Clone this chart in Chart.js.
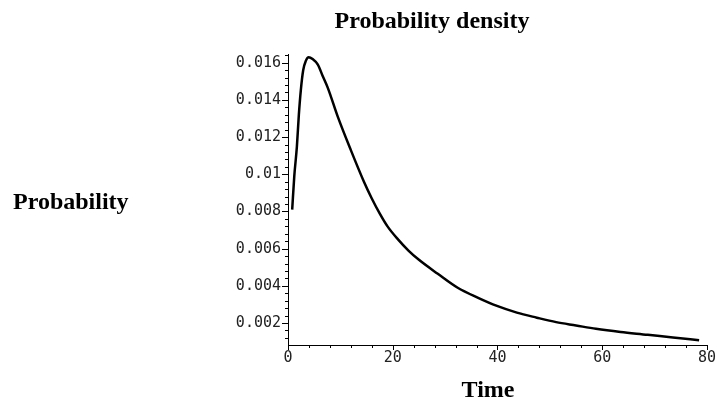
<!DOCTYPE html>
<html>
<head>
<meta charset="utf-8">
<script src="https://cdn.jsdelivr.net/npm/chart.js@4/dist/chart.umd.min.js"></script>
<style>
  html, body { margin: 0; padding: 0; background: #fff; }
  #wrap { width: 720px; height: 400px; }
</style>
</head>
<body>
<div id="wrap"><canvas id="myChart" width="720" height="400"></canvas></div>
<script>
// values
const timeValues = [0.8, 1.2, 1.7, 2.07, 2.45, 2.9, 3.4, 3.95, 4.7, 5.7, 6.6, 7.6, 9.5, 12, 14.5, 16, 17.5, 19, 21, 23, 25, 28.6, 32.4, 36.2, 39.9, 43.7, 47.5, 51.2, 55, 58.8, 63.5, 68.7, 73.5, 78.5];
const densityValues = [0.0081, 0.0099, 0.0115, 0.0132, 0.01453, 0.0156, 0.0161, 0.0163, 0.0162, 0.0159, 0.0153, 0.01465, 0.0131, 0.0113, 0.0096, 0.0087, 0.0079, 0.0072, 0.0065, 0.0059, 0.0054, 0.00465, 0.0039, 0.00337, 0.00292, 0.00256, 0.00229, 0.00205, 0.00187, 0.00169, 0.00152, 0.00137, 0.00122, 0.00108];
const xTicks = [0, 20, 40, 60, 80];
const yTicks = [0.002, 0.004, 0.006, 0.008, 0.01, 0.012, 0.014, 0.016];

const points = timeValues.map((t, i) => ({ x: t, y: densityValues[i] }));

// axis ticks (major + minor) and the titles, drawn by hand
const decorPlugin = {
    id: 'decor',
    afterDraw(chart) {
        const ctx = chart.ctx;
        const xs = chart.scales.x, ys = chart.scales.y;
        const area = chart.chartArea;
        ctx.save();
        ctx.strokeStyle = '#000';
        ctx.lineWidth = 1;
        ctx.beginPath();
        // x ticks
        for (let v = 0; v <= 80; v += 4) {
            const px = Math.round(xs.getPixelForValue(v)) + 0.5;
            const len = v % 20 === 0 ? 5 : 3;
            ctx.moveTo(px, area.bottom);
            ctx.lineTo(px, area.bottom + len);
        }
        // y ticks
        for (let k = 2; k * 0.0004 <= ys.max + 1e-9; k++) {
            const v = k * 0.0004;
            if (v < ys.min) continue;
            const py = Math.round(ys.getPixelForValue(v)) + 0.5;
            const len = k % 5 === 0 ? 6 : 3;
            ctx.moveTo(area.left, py);
            ctx.lineTo(area.left - len, py);
        }
        ctx.stroke();

        ctx.fillStyle = '#000';
        ctx.font = 'bold 24px "Liberation Serif", "Times New Roman", serif';
        ctx.textBaseline = 'alphabetic';
        ctx.textAlign = 'center';
        ctx.fillText('Probability density', 432, 28);
        ctx.fillText('Time', 488, 397);
        ctx.textAlign = 'left';
        ctx.fillText('Probability', 13, 209);
        ctx.restore();
    }
};

const chart1 = document.getElementById('myChart').getContext('2d');
new Chart(chart1, {
    type: 'line',
    data: {
        datasets: [{
            label: 'Probability density',
            data: points,
            borderColor: '#000',
            borderWidth: 2.5,
            pointRadius: 0,
            fill: false,
            cubicInterpolationMode: 'monotone'
        }]
    },
    options: {
        responsive: false,
        animation: false,
        layout: { padding: { top: 54, right: 7, left: 0, bottom: 0 } },
        plugins: {
            legend: { display: false },
            tooltip: { enabled: false }
        },
        scales: {
            x: {
                type: 'linear',
                min: 0,
                max: 80,
                afterFit: s => { s.height = 55; },
                afterBuildTicks: s => { s.ticks = xTicks.map(v => ({ value: v })); },
                grid: { display: false, drawTicks: false },
                border: { display: true, color: '#000', width: 1 },
                ticks: {
                    padding: 4,
                    color: '#222',
                    maxRotation: 0,
                    autoSkip: false,
                    font: { family: '"DejaVu Sans Mono", monospace', size: 15 }
                }
            },
            y: {
                type: 'linear',
                min: 0.00082,
                max: 0.01647,
                afterFit: s => { s.width = 288; },
                afterBuildTicks: s => { s.ticks = yTicks.map(v => ({ value: v })); },
                grid: { display: false, drawTicks: false },
                border: { display: true, color: '#000', width: 1 },
                ticks: {
                    padding: 7,
                    color: '#222',
                    autoSkip: false,
                    font: { family: '"DejaVu Sans Mono", monospace', size: 15 },
                    callback: v => String(parseFloat(v.toFixed(4)))
                }
            }
        }
    },
    plugins: [decorPlugin]
});
</script>
</body>
</html>
